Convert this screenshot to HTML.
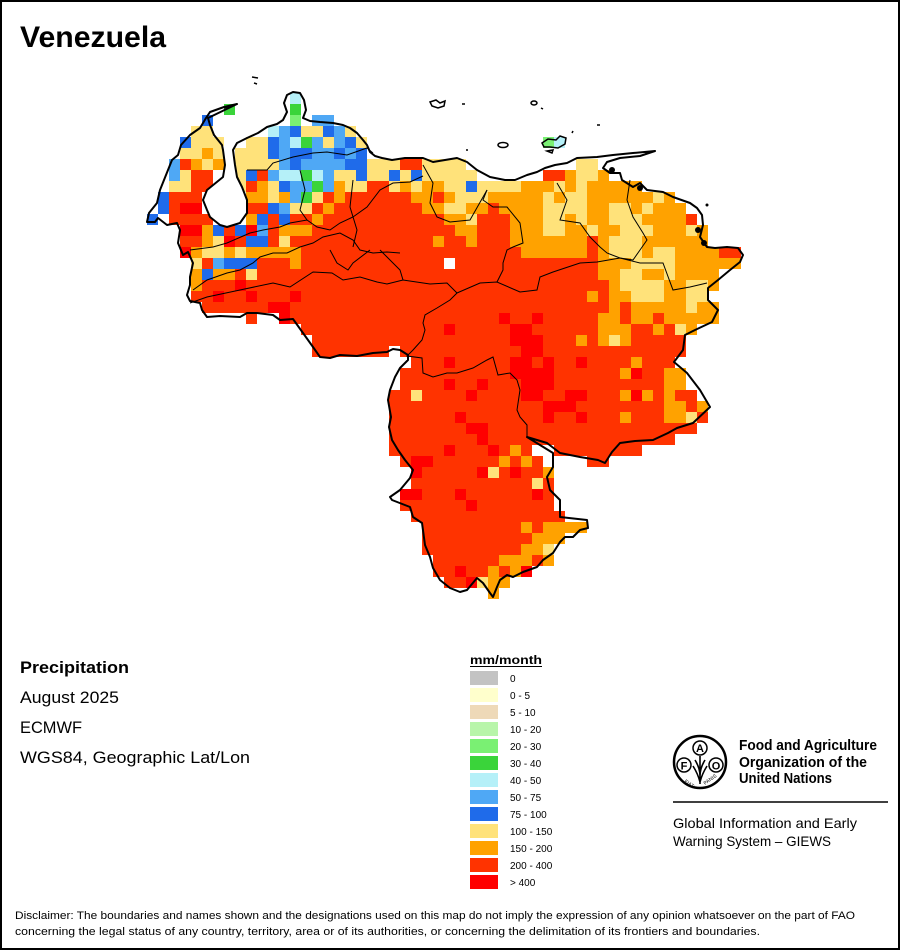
<!DOCTYPE html>
<html>
<head>
<meta charset="utf-8">
<style>
  html,body{margin:0;padding:0;background:#fff;}
  svg{display:block;}
  text{font-family:"Liberation Sans",Arial,sans-serif;}
</style>
</head>
<body>
<svg id="main" width="900" height="950" viewBox="0 0 900 950" xmlns="http://www.w3.org/2000/svg">
  <rect x="1" y="1" width="898" height="948" fill="#fff" stroke="#000" stroke-width="2"/>

  <!-- Title -->
  <text x="20" y="47" font-size="30" font-weight="bold" textLength="146" lengthAdjust="spacingAndGlyphs">Venezuela</text>

  <!-- Grid cells -->
  <g id="cells" shape-rendering="crispEdges"></g>

  <!-- Islands -->
  <g fill="none" stroke="#000" stroke-width="1.5">
    <path d="M252,77 L258,78"/>
    <path d="M254,83 L257,84"/>
    <path d="M430,102 L436,100 L440,103 L445,101 L444,106 L438,108 L432,106 Z"/>
    <path d="M462,104 L465,104"/>
    <path d="M531,103 a3,2 0 1,0 6,0 a3,2 0 1,0 -6,0"/>
    <path d="M541,108 L543,109"/>
    <path d="M597,125 L600,125"/>
    <path d="M498,145 a5,2.5 0 1,0 10,0 a5,2.5 0 1,0 -10,0"/>
    <path d="M542,143 L548,139 L556,140 L560,136 L566,138 L565,144 L558,148 L550,147 L544,147 Z"/>
    <path d="M547,151 L553,150 L552,153 Z"/>
    <path d="M572,133 L573,131"/>
    <path d="M466,150 L468,150"/>
    <path d="M224,108 L237,104"/>
  </g>

  <!-- Internal borders -->
  <g fill="none" stroke="#000" stroke-width="1">
    <path d="M247,170 L267,170 L273,163 L293,157 L313,153 L327,152 L347,155 L367,148 L373,153"/>
    <path d="M190,250 L213,247 L227,243 L250,233 L263,230 L280,227 L290,223 L307,220 L317,227 L330,230 L340,223 L353,217 L367,207 L380,190 L393,183 L410,182 L423,176"/>
    <path d="M193,290 L207,280 L227,273 L240,270 L253,263 L260,257 L273,253 L287,253 L300,247 L313,243 L323,237 L340,233 L353,240 L360,250 L373,253 L387,252 L400,253"/>
    <path d="M190,303 L207,297 L240,290 L273,283 L290,287 L313,272 L332,273 L343,280 L360,277 L377,282 L387,284 L403,280 L430,284 L447,283 L457,293 L480,283 L497,282 L520,292 L537,290 L540,277 L553,272 L580,263 L597,262 L620,258 L640,263 L663,263 L673,290 L690,287 L707,283"/>
    <path d="M330,250 L337,263 L348,270 L353,263 L370,250"/>
    <path d="M380,250 L400,270 L403,280"/>
    <path d="M487,190 L483,200 L493,207 L507,207 L520,223 L523,243 L513,247 L507,250 L503,263 L503,270 L497,282"/>
    <path d="M457,293 L450,300 L437,308 L425,315 L423,323 L425,330 L422,340 L413,350 L407,356 L422,358 L423,373 L433,377 L447,373 L457,373 L473,368 L487,360 L493,357 L498,375 L510,373 L517,380 L520,390 L517,410 L520,417 L527,425 L527,437"/>
    <path d="M557,183 L567,200 L560,220 L580,223 L590,237 L600,247 L607,253 L620,258"/>
    <path d="M630,180 L627,200 L633,217 L643,233 L647,240 L640,250 L633,260 L620,258"/>
    <path d="M423,165 L433,183 L430,203 L437,217 L450,222 L470,220 L487,190"/>
    <path d="M353,180 L350,207 L357,230 L353,247"/>
    <path d="M300,170 L305,190 L300,210 L307,220"/>
  </g>

  <!-- Country outline -->
  <path fill="none" stroke="#000" stroke-width="2" stroke-linejoin="round" d="M237,104 L224,107 L210,112 L206,118 L200,128 L190,135 L181,145 L178,155 L172,160 L168,170 L160,190 L157,203 L149,213 L147,222 L155,222 L158,218 L167,225 L177,223 L180,230 L178,243 L183,255 L188,252 L193,263 L190,277 L190,285 L187,295 L190,301 L200,303 L202,310 L207,317 L220,316 L240,317 L247,313 L257,313 L273,315 L280,320 L293,319 L303,333 L313,347 L320,357 L330,358 L340,355 L357,356 L373,353 L387,352 L393,349 L400,350 L408,355 L408,360 L400,368 L395,377 L390,390 L388,400 L391,417 L389,427 L392,440 L398,450 L405,460 L413,470 L410,478 L400,490 L390,497 L392,500 L410,507 L413,517 L422,523 L425,545 L430,557 L433,568 L440,580 L450,588 L460,592 L467,590 L477,578 L483,583 L490,593 L493,597 L497,587 L500,580 L507,575 L513,577 L523,572 L537,567 L543,560 L553,553 L560,542 L565,537 L573,537 L580,530 L588,528 L587,520 L560,517 L560,500 L550,490 L547,477 L553,467 L553,453 L540,445 L527,437 L537,440 L547,443 L560,453 L580,457 L598,460 L605,463 L612,452 L620,443 L635,441 L653,440 L668,433 L677,428 L693,423 L710,407 L700,390 L687,373 L674,362 L683,350 L685,335 L695,330 L712,322 L718,310 L708,300 L708,288 L718,280 L730,270 L740,262 L743,255 L738,248 L727,247 L715,248 L707,247 L700,237 L703,225 L702,215 L697,208 L690,203 L673,197 L663,192 L647,190 L640,183 L633,187 L622,180 L620,173 L610,173 L603,168 L607,162 L620,158 L640,156 L655,151 L633,153 L613,155 L597,157 L577,158 L567,163 L555,165 L545,168 L537,172 L527,175 L515,180 L505,180 L490,177 L477,170 L467,162 L457,158 L445,160 L433,162 L423,158 L405,158 L392,160 L382,158 L375,156 L370,152 L367,145 L363,140 L357,133 L350,128 L343,125 L333,123 L320,122 L310,121 L303,118 L306,110 L304,100 L300,93 L293,92 L287,95 L284,103 L287,112 L283,120 L277,124 L267,127 L258,133 L247,138 L237,143 L233,150 L235,165 L237,177 L242,187 L247,200 L247,213 L240,223 L227,227 L220,225 L210,217 L207,210 L203,200 L207,190 L223,177 L225,165 L223,150 L222,145 L214,135 L210,125 L208,118 L237,104 Z"/>
  <!-- coastal blobs -->
  <g fill="#000">
    <circle cx="612" cy="170" r="3"/>
    <circle cx="640" cy="188" r="3"/>
    <circle cx="698" cy="230" r="3"/>
    <circle cx="704" cy="243" r="3"/>
    <circle cx="707" cy="205" r="1.5"/>
  </g>

  <!-- Left info block -->
  <text x="20" y="673" font-size="17" font-weight="bold" textLength="109" lengthAdjust="spacingAndGlyphs">Precipitation</text>
  <text x="20" y="703" font-size="16.5" textLength="99" lengthAdjust="spacingAndGlyphs">August 2025</text>
  <text x="20" y="733" font-size="16.5" textLength="62" lengthAdjust="spacingAndGlyphs">ECMWF</text>
  <text x="20" y="763" font-size="16.5" textLength="230" lengthAdjust="spacingAndGlyphs">WGS84, Geographic Lat/Lon</text>

  <!-- Legend -->
  <text x="470" y="664" font-size="12" font-weight="bold" textLength="72" lengthAdjust="spacingAndGlyphs">mm/month</text>
  <line x1="470" y1="666.5" x2="542" y2="666.5" stroke="#000" stroke-width="1"/>
  <g id="legend" font-size="10"></g>

  <!-- FAO logo -->
  <g>
    <circle cx="700" cy="762" r="26" fill="none" stroke="#000" stroke-width="2.5"/>
    <circle cx="684" cy="765" r="7" fill="none" stroke="#000" stroke-width="1.5"/>
    <circle cx="700" cy="748" r="7" fill="none" stroke="#000" stroke-width="1.5"/>
    <circle cx="716" cy="765" r="7" fill="none" stroke="#000" stroke-width="1.5"/>
    <text x="684" y="769.5" font-size="11" font-weight="bold" text-anchor="middle">F</text>
    <text x="700" y="752" font-size="11" font-weight="bold" text-anchor="middle">A</text>
    <text x="716" y="769.5" font-size="11" font-weight="bold" text-anchor="middle">O</text>
    <path d="M700,756 L700,784 M695,760 Q700,768 700,776 M705,760 Q700,768 700,776 M693,766 Q698,774 700,782 M707,766 Q702,774 700,782" fill="none" stroke="#000" stroke-width="1.6"/>
    <text x="684" y="782" font-size="5" transform="rotate(35 684 782)">FIAT</text>
    <text x="705" y="785" font-size="5" transform="rotate(-35 705 785)">PANIS</text>
  </g>
  <text x="739" y="750" font-size="14.5" font-weight="bold" textLength="138" lengthAdjust="spacingAndGlyphs">Food and Agriculture</text>
  <text x="739" y="767" font-size="14.5" font-weight="bold" textLength="128" lengthAdjust="spacingAndGlyphs">Organization of the</text>
  <text x="739" y="783" font-size="14.5" font-weight="bold" textLength="93" lengthAdjust="spacingAndGlyphs">United Nations</text>
  <line x1="673" y1="802" x2="888" y2="802" stroke="#000" stroke-width="1.5"/>
  <text x="673" y="828" font-size="14" textLength="184" lengthAdjust="spacingAndGlyphs">Global Information and Early</text>
  <text x="673" y="846" font-size="14" textLength="158" lengthAdjust="spacingAndGlyphs">Warning System – GIEWS</text>

  <!-- Disclaimer -->
  <text x="15" y="919" font-size="11" textLength="840" lengthAdjust="spacingAndGlyphs">Disclaimer: The boundaries and names shown and the designations used on this map do not imply the expression of any opinion whatsoever on the part of FAO</text>
  <text x="15" y="935" font-size="11" textLength="745" lengthAdjust="spacingAndGlyphs">concerning the legal status of any country, territory, area or of its authorities, or concerning the delimitation of its frontiers and boundaries.</text>
</svg>

<script>
(function(){
  var C={r:'#FF3300',R:'#FF0000',o:'#FFA200',y:'#FFE27A',b:'#1F6BEA',m:'#4FA8F5',c:'#B5F0F8',g:'#3AD43A',l:'#7AF073'};
  function r(n){return 'r'.repeat(n);}
  var rows=[
    [0,13,"c"],
    [1,7,"g.....g"],
    [2,5,"b.......l.mm"],
    [3,4,"yy.....cmbyybmy"],
    [4,3,"byyy..yybmcgmymby"],[4,36,"lc"],
    [5,3,"yyoy.yyybmbbmmbmb"],
    [6,2,"mroyo.yyyymbmmmmbbyyyrryyyy"],[6,39,"yy"],
    [7,2,"myrr..ybrmccgcmyybyybyb"+"yyyyy"+"......"+"rroyyo"],
    [8,2,"yyrr..y"+"roybmmgmoyyrr"+"yoyooyybyyyy"+"oooyoyooooo"],
    [9,1,"brrr....ooyomgyro"+"rrrrrr"+"ooroyyy"+"ooooo"+"yoyy"+"oooooo"+"yo"],
    [10,1,"brRR....rrbmyyrorr"+"rrrrrr"+"ooyyoor"+"oooo"+"yyyy"+"ooyyoyooo"],
    [11,0,"b.rrrr...obrbrror"+r(10)+"ooyrrrooo"+"yyoyooyyy"+"oooor"],
    [12,3,"RRobrbRmrooo"+r(13)+"oo"+"rrr"+"ooo"+"yyooyoo"+"yyy"+"ooo"+"yo"],
    [13,3,"rroyRrbbryr"+r(12)+"orror"+"rr"+"ooooooo"+"ro"+"yyy"+"oooooo"],
    [14,3,"Royyoyooooo"+r(20)+"oooooo"+"ro"+"yyy"+"oyy"+"oooo"+"rr"],
    [15,4,"yrmbbbrrro"+r(13)+"."+r(13)+"ooo"+"yyyy"+"oooooo"],
    [16,4,"obooryr"+r(30)+"ooyyooy"+"oooo"],
    [17,4,"orrrR"+r(33)+"oyyyyooyyo"],
    [18,4,"rrRrrRrrrR"+r(26)+"oroo"+"yyy"+"ooyy"],
    [19,5,"rrrrrrRR"+r(29)+"or"+"ooooo"+"yoo"],
    [20,9,"r..R"+r(19)+"RrrR"+"rrrrr"+"ooroorooooo"],
    [21,14,r(13)+"R"+"rrrrr"+"RR"+"rrrrrr"+"ooorroryo"],
    [22,15,r(13)+"rrrrr"+"RRR"+"rrr"+"oroyorrrrr"],
    [23,15,"rrrrrrr"+"."+r(11)+"RR"+r(13)],
    [24,24,"rrrR"+"rrrrr"+"RRrRrrR"+"rrrr"+"o"+"rrr"],
    [25,23,r(10)+"RRRR"+"rrrrrr"+"oRrroo"],
    [26,23,"rrrrR"+"rrR"+"rrr"+"RRR"+r(10)+"oo"],
    [27,22,"rry"+"rrrr"+"R"+"rrrr"+"RR"+"rr"+"RR"+"rrr"+"oRororr"],
    [28,22,r(14)+"RRR"+r(8)+"oo"+"r"+"o"],
    [29,22,"rrrrrr"+"R"+r(7)+"R"+"rr"+"R"+"rrr"+"o"+"rrr"+"ooy"+"r"],
    [30,22,r(7)+"RR"+r(19)],
    [31,22,r(8)+"R"+r(17)],
    [32,22,"rrrrrR"+"rrr"+"R"+"r"+"o"+"r"+".."+r(8)],
    [33,23,"rRR"+"rrrrrr"+"oror"+"...."+"rr"],
    [34,24,"RrrrrrRyrRrro"],
    [35,24,r(11)+"y"+"r"],
    [36,23,"RR"+"rrr"+"R"+"rrrrrr"+"R"+"r"],
    [37,23,"rrrrrr"+"R"+"rrrrrrr"],
    [38,24,r(14)],
    [39,25,r(9)+"o"+"r"+"oooo"],
    [40,25,r(10)+"ooo"],
    [41,25,r(9)+"ooy"],
    [42,26,r(6)+"ooo"+"r"+"o"],
    [43,26,"rrRrroroR"],
    [44,27,"rrRyoo"],
    [45,31,"o"]
  ];
  var NS='http://www.w3.org/2000/svg';
  var g=document.getElementById('cells');
  rows.forEach(function(row){
    var rr=row[0],c0=row[1],s=row[2];
    for(var i=0;i<s.length;i++){
      var col=C[s[i]];
      if(!col) continue;
      var e=document.createElementNS(NS,'rect');
      e.setAttribute('x',147+11*(c0+i));
      e.setAttribute('y',93+11*rr);
      e.setAttribute('width',11);
      e.setAttribute('height',11);
      e.setAttribute('fill',col);
      g.appendChild(e);
    }
  });
  // Lake Maracaibo overlay (white)
  var lake=document.createElementNS(NS,'path');
  lake.setAttribute('d','M222,145 L233,150 L235,165 L237,177 L242,187 L247,200 L247,213 L240,223 L227,227 L220,225 L210,217 L207,210 L203,200 L207,190 L223,177 L225,165 L223,150 Z');
  lake.setAttribute('fill','#fff');
  g.appendChild(lake);

  var leg=[['#C3C3C3','0'],['#FFFFCC','0 - 5'],['#EED9B8','5 - 10'],['#B8F5AA','10 - 20'],['#7AF073','20 - 30'],['#3AD43A','30 - 40'],['#B5F0F8','40 - 50'],['#4FA8F5','50 - 75'],['#1F6BEA','75 - 100'],['#FFE27A','100 - 150'],['#FFA200','150 - 200'],['#FF3300','200 - 400'],['#FF0000','> 400']];
  var lg=document.getElementById('legend');
  leg.forEach(function(it,i){
    var y=671+17*i;
    var e=document.createElementNS(NS,'rect');
    e.setAttribute('x',470);e.setAttribute('y',y);e.setAttribute('width',28);e.setAttribute('height',14);e.setAttribute('fill',it[0]);
    lg.appendChild(e);
    var t=document.createElementNS(NS,'text');
    t.setAttribute('x',510);t.setAttribute('y',y+11);t.setAttribute('font-size','10');
    t.textContent=it[1];
    lg.appendChild(t);
  });
})();
</script>
</body>
</html>
